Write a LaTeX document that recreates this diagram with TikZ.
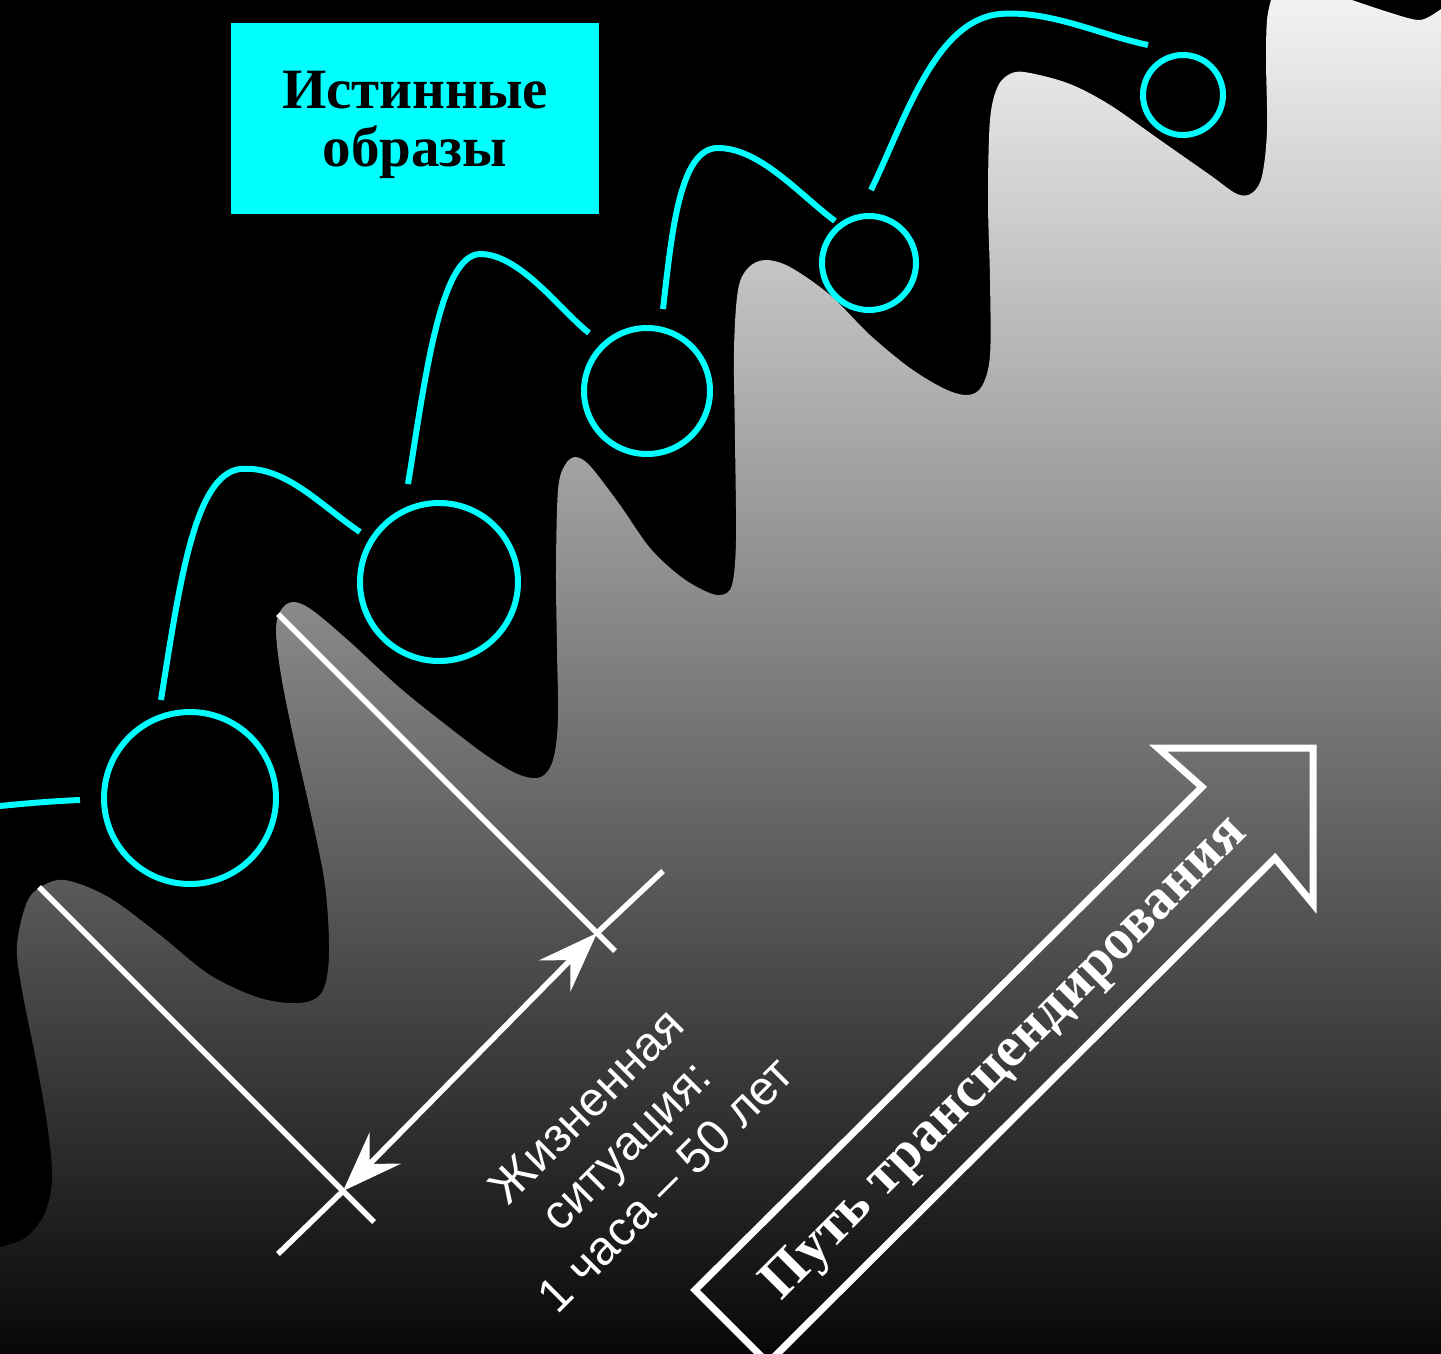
\documentclass[tikz,border=0pt]{standalone}
\usepackage{fontspec}
\setmainfont{Liberation Serif}
\setsansfont{Liberation Sans}
\usetikzlibrary{arrows.meta}
\definecolor{ImageClr}{rgb}{0,1,1}

\begin{document}
\begin{tikzpicture}[x=1pt,y=-1pt,
  image/.style={draw=ImageClr,line width=6pt},
  ring/.style={circle,draw=ImageClr,line width=6pt,inner sep=0pt},
  dimline/.style={draw=white,line width=5.5pt},
  dimarrow/.style={dimline,{Stealth[length=60pt,width=44pt,inset=22pt]}-{Stealth[length=60pt,width=44pt,inset=22pt]}}]
\useasboundingbox (0,0) rectangle (1441,1354);
\fill[black] (0,0) rectangle (1441,1354);

% ground
\shade[top color=black!5,bottom color=black!97]
  plot[smooth,tension=0.55] coordinates {(0,1247) (25,1238) (44,1215) (52,1180) (48,1130)
   (36,1060) (22,990) (17,945) (28,900) (48,883) (70,881) (110,898) (160,935) (210,975)
   (260,998) (300,1003) (322,992) (329,955) (325,885) (310,810) (294,740) (281,675)
   (276,630) (281,610) (293,602) (312,610) (350,642) (400,688) (450,728) (490,758)
   (520,775) (541,777) (553,760) (558,720) (557,650) (556,570) (558,490) (565,465)
   (576,457) (591,467) (620,505) (650,548) (680,576) (705,591) (721,595) (732,585)
   (736,540) (735,440) (734,350) (738,290) (748,268) (765,260) (790,267) (830,295)
   (870,335) (910,368) (945,389) (968,395) (982,386) (990,355) (990,280) (988,200)
   (990,120) (998,86) (1012,73) (1030,73) (1070,84) (1110,105) (1160,140) (1210,175)
   (1237,194) (1252,193) (1262,176) (1267,130) (1266,60) (1267,20) (1271,0)}
  -- (1352,0)
  -- plot[smooth] coordinates {(1352,0) (1388,12) (1420,20) (1441,9)}
  -- (1441,1354) -- (0,1354) -- cycle;

\node[fill=ImageClr,minimum width=368pt,minimum height=191pt] (titlebox) at (415,118.5) {};
\node[align=center,font=\fontsize{57}{58}\selectfont\bfseries] (title)
  at ([yshift=-6pt]titlebox.center) {Истинные\\образы};

\node[ring,minimum size=172pt] (c1) at (190,798) {};
\node[ring,minimum size=158pt] (c2) at (439,582) {};
\node[ring,minimum size=126pt] (c3) at (647,391) {};
\node[ring,minimum size=94pt] (c4) at (869,263) {};
\node[ring,minimum size=80pt] (c5) at (1183,95) {};

\foreach \x/\y/\n in {0/806/p0,80/800/q0,161/700/p1,360/532/q1,408/484/p2,589/333/q2,
  663/309/p3,835/221/q3,871/190/p4,1148/45/q4}
  \coordinate (\n) at (\x,\y);

\draw[image] (p0) .. controls (30,803) and (55,801) .. (q0);
\draw[image] (p1) .. controls (180,580) and (195,475) .. (240,469)
  .. controls (285,465) and (320,505) .. (q1);
\draw[image] (p2) .. controls (425,380) and (440,255) .. (480,254)
  .. controls (520,254) and (560,310) .. (q2);
\draw[image] (p3) .. controls (672,230) and (680,148) .. (718,148)
  .. controls (760,148) and (800,195) .. (q3);
\draw[image] (p4) .. controls (905,120) and (935,20) .. (1000,14)
  .. controls (1050,10) and (1100,35) .. (q4);

% dimension
\foreach \x/\y/\n in {39/887/E1,374/1222/E2,278/614/F1,615/951/F2,
  343/1191/L,597/933/U,278/1254/T1,663/871/T2}
  \coordinate (\n) at (\x,\y);
\draw[dimline] (E1) -- (E2);
\draw[dimline] (F1) -- (F2);
\draw[dimline] (T1) -- (L);
\draw[dimline] (U) -- (T2);
\draw[dimarrow] (L) -- (U);

\node[text=white,rotate=45,align=center,
  font=\sffamily\fontsize{48}{56}\selectfont] (span) at (626,1145)
  {Жизненная\\ситуация:\\1 часа – 50 лет};

% path arrow
\foreach \x/\y/\n in {695/1290/A1,1202/787/A2,1158/748/A3,1313/748/A4,
  1313/904/A5,1275/858/A6,768/1363/A7}
  \coordinate (\n) at (\x,\y);
\draw[white,line width=7pt,line join=miter] (A1) -- (A2) -- (A3) -- (A4) -- (A5)
  -- (A6) -- (A7) -- cycle;
\node[text=white,rotate=45,font=\fontsize{57}{60}\selectfont\bfseries] (way)
  at (1006,1059) {Путь трансцендирования};

\end{tikzpicture}
\end{document}
